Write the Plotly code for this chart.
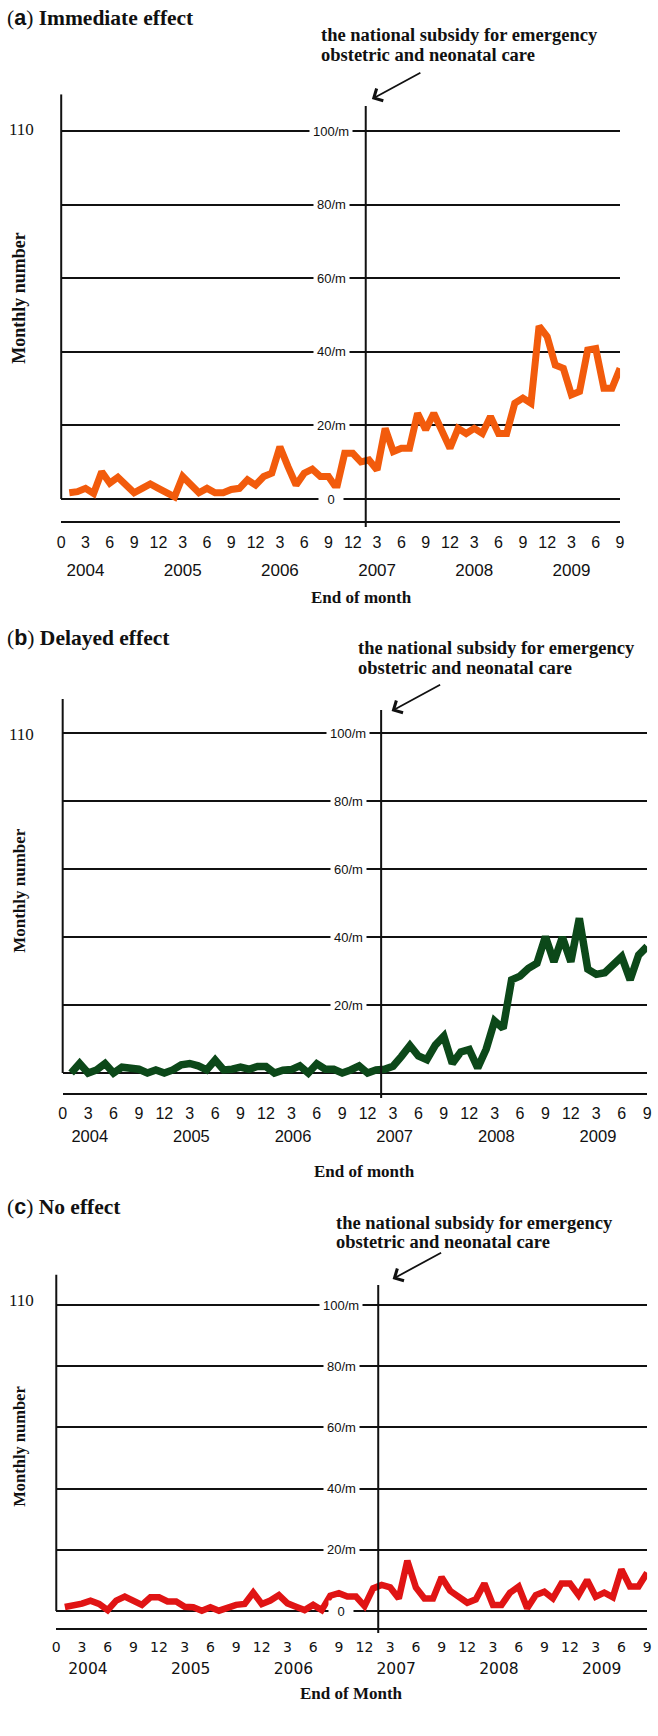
import plotly.graph_objects as go

W, H = 658, 1736

# ---------------- data ----------------
months = list(range(1, 70))                     # Jan 2004 = 1 ... Sep 2009 = 69
tick_vals = list(range(0, 70, 3))
tick_text = ["0"] + ["3", "6", "9", "12"] * 5 + ["3", "6", "9"]
years = ["2004", "2005", "2006", "2007", "2008", "2009"]
year_months = [3, 15, 27, 39, 51, 63]
y_levels = [0, 20, 40, 60, 80, 100]
y_labels = ["0", "20/m", "40/m", "60/m", "80/m", "100/m"]
subsidy_month = 37.6

immediate = [1.7, 2.0, 2.9, 1.5, 7.4, 4.3, 5.9, 3.8, 1.7, 2.9, 4.1, 2.9, 1.7, 0.6, 6.1,
             3.8, 1.7, 2.9, 1.7, 1.7, 2.6, 2.9, 5.2, 3.8, 6.1, 7.0, 14.2, 8.8, 3.8, 7.0,
             8.1, 6.1, 6.1, 2.9, 12.4, 12.4, 10.1, 10.6, 7.9, 19.2, 12.9, 13.8, 13.8, 23.3, 18.8,
             23.3, 18.8, 13.8, 19.2, 17.8, 19.2, 17.8, 22.4, 17.8, 17.8, 26.0, 27.4, 26.0, 47.0, 44.1,
             36.4, 35.5, 28.3, 29.2, 40.5, 40.9, 30.1, 30.1, 35.5]
delayed = [0.0, 2.8, 0.0, 0.9, 2.8, 0.0, 1.7, 1.4, 1.1, 0.0, 0.9, 0.0, 0.9, 2.4, 2.8,
           2.1, 0.9, 3.8, 0.9, 1.1, 1.7, 1.1, 1.9, 1.9, 0.0, 0.8, 1.0, 2.1, 0.0, 2.7,
           1.1, 1.1, 0.0, 0.9, 2.1, 0.0, 0.9, 1.1, 2.0, 4.9, 8.1, 5.0, 3.9, 8.2, 10.8,
           2.8, 6.2, 6.9, 1.5, 7.0, 15.3, 13.1, 27.4, 28.5, 30.8, 32.3, 40.1, 32.7, 39.9, 32.7,
           45.5, 30.5, 29.0, 29.5, 31.5, 34.2, 27.4, 34.7, 37.2]
no_effect = [1.3, 1.6, 2.4, 3.4, 2.3, 0.3, 3.4, 4.7, 3.1, 2.0, 4.5, 4.5, 3.1, 3.1, 1.4,
             1.2, 0.1, 1.2, 0.1, 1.2, 2.0, 2.3, 6.0, 2.3, 3.4, 5.2, 2.5, 1.4, 0.3, 2.0,
             0.3, 5.0, 5.8, 4.7, 4.7, 1.6, 7.4, 8.5, 7.7, 4.1, 16.4, 7.7, 4.1, 4.1, 11.0,
             6.6, 4.7, 2.7, 3.8, 9.0, 2.0, 2.0, 6.0, 8.0, 0.9, 5.2, 6.3, 4.1, 9.0, 9.0,
             5.2, 10.1, 4.7, 6.0, 4.5, 13.6, 8.0, 8.0, 12.5]

titles = [("a", "Immediate effect"), ("b", "Delayed effect"), ("c", "No effect")]
x_titles = ["End of month", "End of month", "End of Month"]
note_lines = ["the national subsidy for emergency", "obstetric and neonatal care"]

# ---------------- styling (pixel layout) ----------------
panels = [
    dict(series=immediate, color="#F25B0C", lw=7, left=58, right=624.6, zero=499, ppu=3.68, axis=521,
         lab_cx=332, zero_label=True, title_y=18, note_x=319, note_y=(35, 55),
         arrow_head=(373, 99), vtop=106, vbot=527, y110=129, ytitle_y=298, ytitle_size=18,
         tick_font="Liberation Sans", tick_size=16, year_size=17, tick_sd=6, year_sd=37,
         year_shift=0.0, xtitle=(362, 597)),
    dict(series=delayed, color="#0C4819", lw=7.5, left=59.5, right=652, zero=1073, ppu=3.4, axis=1093,
         lab_cx=349, zero_label=False, title_y=638, note_x=357, note_y=(648, 668),
         arrow_head=(393, 711), vtop=710, vbot=1098, y110=735, ytitle_y=890, ytitle_size=17,
         tick_font="Liberation Sans", tick_size=16, year_size=16.5, tick_sd=5, year_sd=31,
         year_shift=0.2, xtitle=(366, 1171)),
    dict(series=no_effect, color="#E01414", lw=6.5, left=53, right=652, zero=1611, ppu=3.06, axis=1628,
         lab_cx=342, zero_label=True, title_y=1207, note_x=335, note_y=(1223, 1242),
         arrow_head=(394, 1279), vtop=1285, vbot=1633, y110=1300, ytitle_y=1446, ytitle_size=16.5,
         tick_font="DejaVu Sans", tick_size=14, year_size=15.5, tick_sd=5, year_sd=29,
         year_shift=0.7, xtitle=(352, 1693)),
]

SERIF = "Liberation Serif, Times New Roman, serif"
SANS = "Liberation Sans, Arial, sans-serif"


def px(x):
    return x / W


def py(y):
    return 1 - y / H


fig = go.Figure()
layout = dict(width=W, height=H, margin=dict(l=0, r=0, t=0, b=0),
              paper_bgcolor="white", plot_bgcolor="white", showlegend=False)
shapes, annotations = [], []

for i, p in enumerate(panels):
    n = i + 1
    xa = "x" if n == 1 else f"x{n}"
    ya = "y" if n == 1 else f"y{n}"
    xk = "xaxis" if n == 1 else f"xaxis{n}"
    yk = "yaxis" if n == 1 else f"yaxis{n}"
    yr_n = n + 3
    yr_xa = f"x{yr_n}"
    yr_xk = f"xaxis{yr_n}"

    ymin = -(p["axis"] - p["zero"]) / p["ppu"]
    ymax = 110
    top_px = p["zero"] - ymax * p["ppu"]

    fig.add_trace(go.Scatter(x=months, y=p["series"], mode="lines",
                             line=dict(color=p["color"], width=p["lw"]),
                             xaxis=xa, yaxis=ya, hoverinfo="skip"))
    fig.add_trace(go.Scatter(x=[0, 69], y=[None, None], mode="lines",
                             xaxis=yr_xa, yaxis=ya, hoverinfo="skip"))

    layout[xk] = dict(domain=[px(p["left"]), px(p["right"])], range=[0, 69], anchor=ya,
                      showgrid=False, zeroline=False, showline=True, linecolor="#111",
                      linewidth=2, ticks="", tickvals=tick_vals, ticktext=tick_text,
                      ticklabelstandoff=p["tick_sd"], ticklabeloverflow="allow",
                      tickfont=dict(family=p["tick_font"], size=p["tick_size"], color="#111"))
    layout[yr_xk] = dict(overlaying=xa, anchor=ya, range=[0, 69], showgrid=False,
                         zeroline=False, showline=False, ticks="",
                         tickvals=[m + p["year_shift"] for m in year_months], ticktext=years,
                         ticklabelstandoff=p["year_sd"], ticklabeloverflow="allow",
                         tickfont=dict(family=p["tick_font"], size=p["year_size"], color="#111"))
    layout[yk] = dict(domain=[py(p["axis"]), py(top_px)], range=[ymin, ymax], anchor=xa,
                      showgrid=True, gridcolor="#111", gridwidth=2, tickvals=y_levels,
                      showticklabels=False, zeroline=False, showline=False, ticks="")

    # left axis (from 0 up to the top)
    shapes.append(dict(type="line", xref="paper", yref=ya, x0=px(p["left"]), x1=px(p["left"]),
                       y0=0, y1=ymax, line=dict(color="#111", width=2)))
    # subsidy vertical line
    shapes.append(dict(type="line", xref=xa, yref="paper", x0=subsidy_month, x1=subsidy_month,
                       y0=py(p["vbot"]), y1=py(p["vtop"]), line=dict(color="#111", width=2)))

    # gridline labels
    for lv, lb in zip(y_levels, y_labels):
        if lv == 0 and not p["zero_label"]:
            continue
        ann = dict(xref="paper", yref=ya, x=px(p["lab_cx"]), y=lv, text=lb, showarrow=False,
                   xanchor="center", yanchor="middle", bgcolor="white", borderpad=3,
                   font=dict(family=SANS, size=13, color="#111"))
        if lv == 0:
            ann["width"] = 18
        annotations.append(ann)

    annotations.append(dict(xref="paper", yref="paper", x=px(18), y=py(p["y110"]), text="110",
                            showarrow=False, xanchor="center", yanchor="middle",
                            font=dict(family=SERIF, size=17, color="#111")))
    annotations.append(dict(xref="paper", yref="paper", x=px(15), y=py(p["ytitle_y"]),
                            text="<b>Monthly number</b>", textangle=-90, showarrow=False,
                            xanchor="center", yanchor="middle",
                            font=dict(family=SERIF, size=p["ytitle_size"], color="#111")))
    letter, name = titles[i]
    annotations.append(dict(xref="paper", yref="paper", x=px(1), y=py(p["title_y"]),
                            text=f"(<span style='font-family:Liberation Sans'><b>{letter}</b></span>) <b>{name}</b>",
                            showarrow=False, xanchor="left", yanchor="middle",
                            font=dict(family=SERIF, size=21.5, color="#111")))
    for line, yy in zip(note_lines, p["note_y"]):
        annotations.append(dict(xref="paper", yref="paper", x=px(p["note_x"]), y=py(yy),
                                text=f"<b>{line}</b>", showarrow=False, xanchor="left",
                                yanchor="middle",
                                font=dict(family=SERIF, size=18.5, color="#111")))
    hx, hy = p["arrow_head"]
    annotations.append(dict(xref="paper", yref="paper", x=px(hx), y=py(hy), text="",
                            showarrow=True, ax=50, ay=-27, arrowhead=4, arrowsize=1.5,
                            arrowwidth=1.8, arrowcolor="#111", standoff=0))
    tx, ty = p["xtitle"]
    annotations.append(dict(xref="paper", yref="paper", x=px(tx), y=py(ty),
                            text=f"<b>{x_titles[i]}</b>", showarrow=False, xanchor="center",
                            yanchor="middle", font=dict(family=SERIF, size=17, color="#111")))

layout["shapes"] = shapes
layout["annotations"] = annotations
fig.update_layout(**layout)
fig.write_html("out.html", config={"displayModeBar": False, "staticPlot": True},
               post_script="document.body.style.margin='0';document.body.style.overflow='hidden';")
